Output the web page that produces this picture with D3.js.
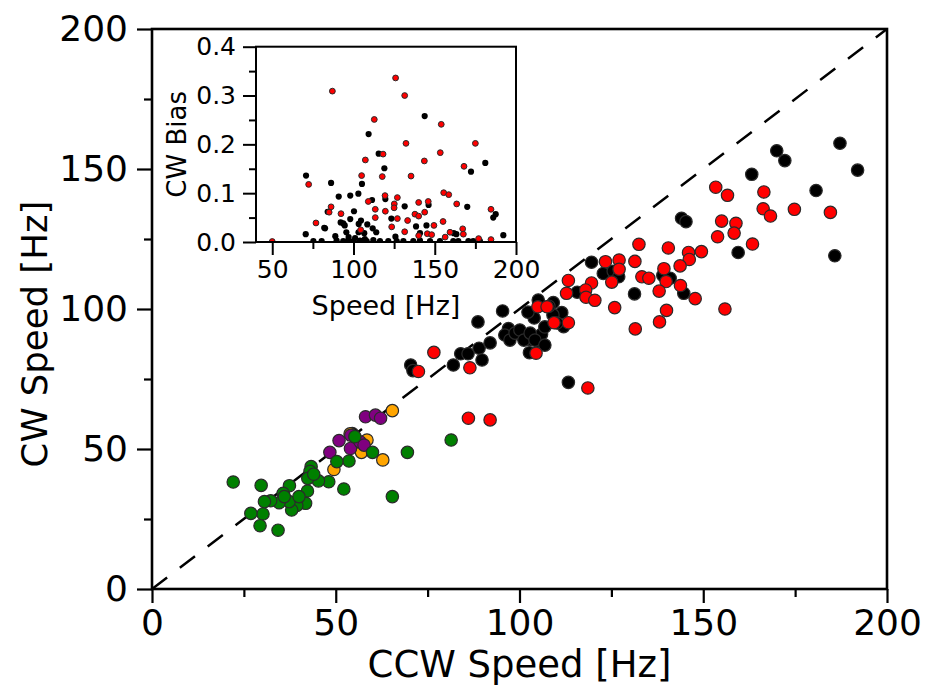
<!DOCTYPE html>
<html>
<head>
<meta charset="utf-8">
<script src="https://cdn.jsdelivr.net/npm/d3@7"></script>
<style>
  html, body { margin: 0; padding: 0; background: #fff; }
  svg { display: block; }
  text { font-family: "DejaVu Sans", sans-serif; fill: #000; }
</style>
</head>
<body>
<svg id="chart" width="925" height="687"></svg>
<script>
// ---- main panel: CW vs CCW rotation speed, one array per group ----
const blackPts = [
  [187.2,159.2],[192,149.6],[170,156.5],[172.2,153],[163.2,148.1],[180.7,142.3],
  [144.1,132.4],[145.3,131.2],[159.5,120.2],[185.8,119],[119.6,116.7],[122.8,112.7],
  [125.5,113.5],[127,111.5],[139,112],[141,111],[131.3,105.4],[144.7,105.6],
  [115.7,106],[105.1,103.2],[109.2,102.3],[111.5,98.7],[112,93.7],[104,96.8],
  [95.4,99.3],[97,93],[99,91.5],[101,90],[103,89],[105,88.5],[106,91],[102.7,84.4],
  [113.3,73.8],[70.4,80],[71,78],[82,80],[84,84],[86,84],[88.7,95.4],[89,86],
  [89.8,81.8],[92,87.9],[96,90.7],[97.4,88.9],[98.8,91.4],[100.1,92.5],[101.2,88.9],
  [102.9,91.4],[104.2,88.9],[106.9,93.6],[106.9,87.1],[102.3,98.9],[109.1,97.9],
  [108,101],[110.2,95],[54.5,55.5]
];
const redPts = [
  [153.4,143.5],[156.6,140.6],[166.5,141.8],[166.3,135.8],[168.3,133.2],[174.8,135.6],
  [184.6,134.5],[155,131.4],[158.9,130.6],[158.4,127.1],[153.9,125.8],[163.4,123.2],
  [132.5,123.1],[140.5,121.8],[146,120.2],[149.5,120.5],[146.2,117.7],[143.7,115.4],
  [139.3,114.4],[131.4,117],[127.1,117.5],[123.4,116.9],[127.1,114.2],[133.3,111.5],
  [135.2,111],[139.9,109.8],[125.1,109.6],[138,106.4],[143.8,108.4],[147.8,103.7],
  [113.3,110.2],[119.6,109.3],[112.8,105.6],[118,106.8],[118.1,104.2],[120.5,103.1],
  [125.9,100.5],[105,100.8],[107.5,100.8],[109.4,95.1],[113.3,95.1],[155.9,100],
  [140,99.5],[138.1,95.4],[131.5,92.9],[104.5,84.2],[118.6,71.8],[76.7,84.5],
  [72.5,77.7],[86.5,79],[86.1,61],[92,60.4]
];
const orangePts = [
  [65.4,63.7],[58.5,53.2],[57,48.8],[62.8,46.1],[49.5,42.7],[53.9,55.4]
];
const purplePts = [
  [58.1,61.5],[60.8,62.1],[62.2,61],[50.9,53],[54,50.2],[48.4,48.8],
  [56.6,52.6],[57.7,51.4],[54.1,54.9]
];
const greenPts = [
  [81.4,53.2],[69.5,48.8],[65.4,33],[60,48.8],[53.6,45.7],[50.3,45.5],[55.2,54.4],
  [52.2,35.7],[48.1,38.3],[45.3,38.6],[43.3,43.7],[43,42],[42.4,39.5],[42.3,35],
  [41.8,30.6],[39.4,29.8],[38,28.2],[37.4,36.9],[37.3,31.2],[35.7,34.2],[34.6,30.8],
  [32.3,31.5],[30.6,31.2],[30.2,26.8],[26.9,27],[29.4,22.6],[34.3,21],[22.1,38.2],
  [29.7,37],[44,41],[40,33],[36,33]
];
const mainTicks = [0, 50, 100, 150, 200];
const mainMinor = [25, 75, 125, 175];

// ---- inset: CW bias vs speed ----
const insetBlack = [
  [143.8,0.258],[109.3,0.221],[115.5,0.181],[181.1,0.162],[119,0.151],[172.3,0.144],
  [70.8,0.136],[86.2,0.121],[105.2,0.119],[98,0.095],[90.9,0.093],[103,0.099],
  [111.4,0.086],[119.6,0.088],[131.5,0.073],[170,0.072],[146.2,0.076],[187.5,0.057],
  [186,0.05],[100.3,0.063],[84.1,0.062],[123.3,0.048],[98,0.047],[92.1,0.04],
  [94.6,0.034],[104.6,0.044],[103.2,0.037],[108.5,0.036],[111.8,0.028],[82.5,0.028],
  [95.6,0.02],[103.1,0.02],[106.6,0.018],[114,0.02],[138.5,0.032],[144.9,0.034],
  [140.9,0.018],[163.3,0.016],[70.6,0.016],[192.2,0.014],[88.8,0.012],[125.8,0.011],
  [161.7,0.018],[93.7,0.038],[82,0.029],[97,0.01],[101,0.008],[107,0.006],
  [75.3,0.002],[80.4,0.002],[89.6,0.003],[93.7,0.002],[96.8,0.004],[99.9,0.002],
  [104,0.003],[108.1,0.002],[112.2,0.004],[116.3,0.002],[121.4,0.002],[126.6,0.002],
  [130.7,0.002],[136.8,0.002],[140.9,0.003],[147.1,0.002],[153.2,0.002],[161.4,0.002],
  [164.5,0.002],[170.7,0.002],[173.7,0.002],[177.8,0.002]
];
const insetRed = [
  [125.9,0.336],[87,0.309],[131.5,0.30],[112.8,0.251],[154,0.241],[132.3,0.202],
  [175,0.202],[153.4,0.183],[118.2,0.18],[143.6,0.166],[107.3,0.168],[168,0.155],
  [105,0.136],[117.7,0.134],[135.4,0.135],[72.4,0.118],[155.5,0.101],[158.6,0.097],
  [119.4,0.095],[109.1,0.083],[127,0.091],[140.1,0.081],[146,0.083],[163.5,0.078],
  [125.1,0.078],[86.2,0.072],[113.4,0.067],[125,0.070],[119.6,0.063],[184.6,0.067],
  [85,0.061],[143.8,0.061],[92.3,0.058],[137.8,0.057],[140.1,0.053],[113.4,0.050],
  [127,0.048],[133.3,0.044],[76.9,0.039],[155.1,0.042],[149.5,0.034],[123.5,0.031],
  [104.4,0.025],[131.5,0.021],[167.2,0.027],[167.6,0.016],[159.4,0.02],[145.4,0.017],
  [148.1,0.015],[140.1,0.013],[156.4,0.010],[177,0.007],[184.6,0.005],[50,0.001]
];
const insetXTicks = [50, 100, 150, 200];
const insetXMinor = [75, 125, 175];
const insetYTicks = [0, 0.1, 0.2, 0.3, 0.4];
const insetYMinor = [0.05, 0.15, 0.25, 0.35];

const svg = d3.select("#chart");

// main scales
const M = { left: 152, right: 887, top: 29, bottom: 589 };
const x = d3.scaleLinear().domain([0, 200]).range([M.left, M.right]);
const y = d3.scaleLinear().domain([0, 200]).range([M.bottom, M.top]);

svg.append("clipPath").attr("id", "mainClip")
  .append("rect").attr("x", M.left).attr("y", M.top)
  .attr("width", M.right - M.left).attr("height", M.bottom - M.top);

const plot = svg.append("g").attr("clip-path", "url(#mainClip)");

// identity reference line
plot.append("line")
  .attr("x1", x(0)).attr("y1", y(0)).attr("x2", x(200)).attr("y2", y(200))
  .attr("stroke", "#000").attr("stroke-width", 2.5)
  .attr("stroke-dasharray", "19,16");

function drawDots(g, data, fill, sx, sy, r, stroke, sw) {
  g.append("g").selectAll("circle").data(data).join("circle")
    .attr("cx", d => sx(d[0])).attr("cy", d => sy(d[1])).attr("r", r)
    .attr("fill", fill).attr("stroke", stroke).attr("stroke-width", sw);
}
const edge = "#2a2a2a";
drawDots(plot, blackPts, "#000000", x, y, 6.2, edge, 1.2);
drawDots(plot, redPts, "#ff0000", x, y, 6.2, edge, 1.2);
drawDots(plot, orangePts, "#ffa500", x, y, 6.2, edge, 1.2);
drawDots(plot, purplePts, "#800080", x, y, 6.2, edge, 1.2);
drawDots(plot, greenPts, "#008000", x, y, 6.2, edge, 1.2);

// main axes
function styleAxis(g, sw) {
  g.select(".domain").remove();
  g.selectAll(".tick line").attr("stroke", "#000").attr("stroke-width", sw);
}
const fsMain = 36;
const gx = svg.append("g").attr("transform", `translate(0,${M.bottom})`)
  .call(d3.axisBottom(x).tickValues(mainTicks).tickSize(14).tickPadding(6).tickFormat(d3.format("d")));
styleAxis(gx, 2.2);
gx.selectAll("text").attr("font-size", fsMain).attr("font-family", "DejaVu Sans");
const gxm = svg.append("g").attr("transform", `translate(0,${M.bottom})`)
  .call(d3.axisBottom(x).tickValues(mainMinor).tickSize(8).tickFormat(""));
styleAxis(gxm, 2.2);

const gy = svg.append("g").attr("transform", `translate(${M.left},0)`)
  .call(d3.axisLeft(y).tickValues(mainTicks).tickSize(15).tickPadding(9).tickFormat(d3.format("d")));
styleAxis(gy, 2.2);
gy.selectAll("text").attr("font-size", fsMain).attr("font-family", "DejaVu Sans");
const gym = svg.append("g").attr("transform", `translate(${M.left},0)`)
  .call(d3.axisLeft(y).tickValues(mainMinor).tickSize(8).tickFormat(""));
styleAxis(gym, 2.2);

// main frame
svg.append("rect").attr("x", M.left).attr("y", M.top)
  .attr("width", M.right - M.left).attr("height", M.bottom - M.top)
  .attr("fill", "none").attr("stroke", "#000").attr("stroke-width", 2.6);

svg.append("text").attr("x", (M.left + M.right) / 2).attr("y", 677)
  .attr("text-anchor", "middle").attr("font-size", 37).text("CCW Speed [Hz]");
svg.append("text").attr("transform", "translate(47,334) rotate(-90)")
  .attr("text-anchor", "middle").attr("font-size", 35.5).text("CW Speed [Hz]");

// ---- inset ----
const I = { left: 256, right: 516, top: 46.7, bottom: 242 };
const ix = d3.scaleLinear().domain([40, 200]).range([I.left, I.right]);
const iy = d3.scaleLinear().domain([0, 0.4]).range([I.bottom, I.top]);

svg.append("rect").attr("x", I.left).attr("y", I.top)
  .attr("width", I.right - I.left).attr("height", I.bottom - I.top).attr("fill", "#fff");

svg.append("clipPath").attr("id", "insetClip")
  .append("rect").attr("x", I.left).attr("y", I.top - 4)
  .attr("width", I.right - I.left).attr("height", I.bottom - I.top + 4);
const iplot = svg.append("g").attr("clip-path", "url(#insetClip)");
drawDots(iplot, insetBlack, "#000000", ix, iy, 3.1, "none", 0);
drawDots(iplot, insetRed, "#ff0000", ix, iy, 2.9, edge, 1);

const fsInset = 25;
const igx = svg.append("g").attr("transform", `translate(0,${I.bottom})`)
  .call(d3.axisBottom(ix).tickValues(insetXTicks).tickSize(13).tickPadding(5).tickFormat(d3.format("d")));
styleAxis(igx, 2);
igx.selectAll("text").attr("font-size", fsInset);
const igxm = svg.append("g").attr("transform", `translate(0,${I.bottom})`)
  .call(d3.axisBottom(ix).tickValues(insetXMinor).tickSize(7).tickFormat(""));
styleAxis(igxm, 2);

const igy = svg.append("g").attr("transform", `translate(${I.left},0)`)
  .call(d3.axisLeft(iy).tickValues(insetYTicks).tickSize(13).tickPadding(7).tickFormat(d3.format(".1f")));
styleAxis(igy, 2);
igy.selectAll("text").attr("font-size", fsInset);
const igym = svg.append("g").attr("transform", `translate(${I.left},0)`)
  .call(d3.axisLeft(iy).tickValues(insetYMinor).tickSize(7).tickFormat(""));
styleAxis(igym, 2);

svg.append("rect").attr("x", I.left).attr("y", I.top)
  .attr("width", I.right - I.left).attr("height", I.bottom - I.top)
  .attr("fill", "none").attr("stroke", "#000").attr("stroke-width", 2);

svg.append("text").attr("x", (I.left + I.right) / 2).attr("y", 315)
  .attr("text-anchor", "middle").attr("font-size", 27).text("Speed [Hz]");
svg.append("text").attr("transform", `translate(186,${(I.top + I.bottom) / 2}) rotate(-90)`)
  .attr("text-anchor", "middle").attr("font-size", 26).text("CW Bias");
</script>
</body>
</html>
